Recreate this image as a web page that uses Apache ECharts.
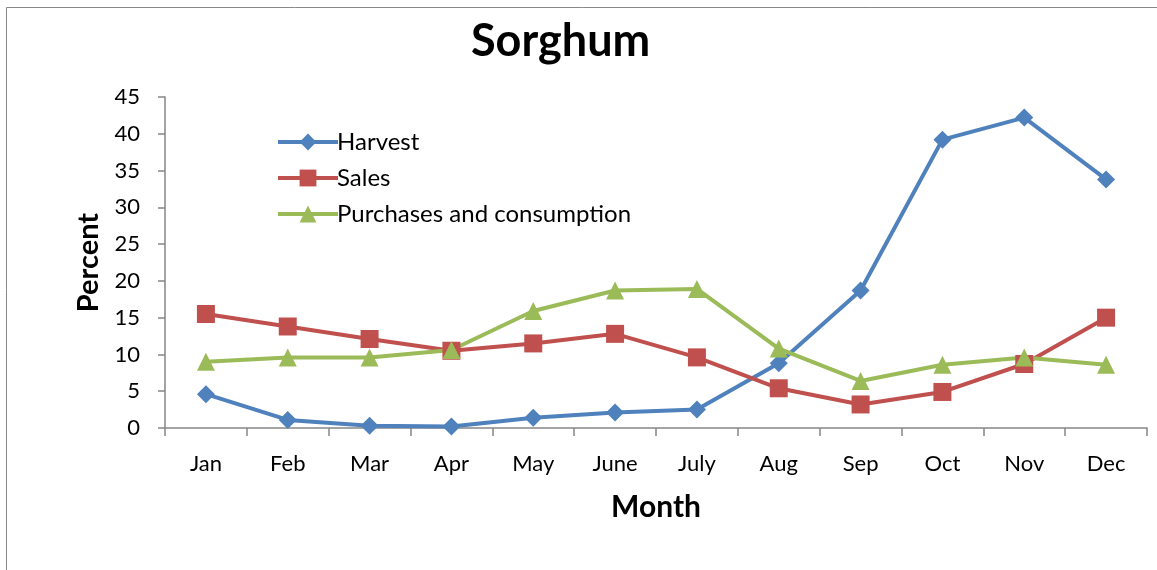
<!DOCTYPE html>
<html>
<head>
<meta charset="utf-8">
<script src="https://cdn.jsdelivr.net/npm/echarts@6/dist/echarts.min.js"></script>
<style>html,body{margin:0;padding:0;background:#fff}#c{width:1157px;height:570px}</style>
</head>
<body>
<div id="c"></div>
<script>
const months = ['Jan','Feb','Mar','Apr','May','June','July','Aug','Sep','Oct','Nov','Dec'];
const harvest = [4.6, 1.1, 0.3, 0.2, 1.4, 2.1, 2.5, 8.8, 18.7, 39.2, 42.2, 33.8];
const sales = [15.5, 13.8, 12.1, 10.5, 11.5, 12.8, 9.6, 5.4, 3.2, 4.9, 8.7, 15.0];
const purchases = [9.0, 9.6, 9.6, 10.6, 15.9, 18.7, 18.9, 10.8, 6.4, 8.6, 9.6, 8.6];
const yTicks = {min: 0, max: 45, interval: 5};

const font = 'Lato, "Open Sans", sans-serif';
const chart = echarts.init(document.getElementById('c'), null, {renderer: 'canvas'});
const mk = (name, data, color, symbol, size) => ({
  name, type: 'line', data, symbol, symbolSize: size,
  lineStyle: {color, width: 4}, itemStyle: {color},
  showAllSymbol: true, animation: false
});
chart.setOption({
  animation: false,
  graphic: [{type: 'rect', shape: {x: 6.5, y: 7.5, width: 1200, height: 600},
    style: {fill: 'none', stroke: '#888', lineWidth: 1}, silent: true}],
  title: {text: 'Sorghum', left: 466, top: 14,
    textStyle: {fontFamily: font, fontSize: 45, fontWeight: 'bold', color: '#000'}},
  legend: {orient: 'vertical', left: 271, top: 125, itemGap: 12, itemWidth: 60, itemHeight: 21,
    lineStyle: {width: 4},
    textStyle: {fontFamily: font, fontSize: 24, color: '#000', padding: [0,0,0,-6]},
    data: ['Harvest','Sales','Purchases and consumption']},
  grid: {left: 165, right: 10, top: 97, bottom: 142, containLabel: false},
  xAxis: {type: 'category', data: months, boundaryGap: true,
    name: 'Month', nameLocation: 'middle', nameGap: 64,
    nameTextStyle: {fontFamily: font, fontSize: 30, fontWeight: 'bold', color: '#000'},
    axisLine: {lineStyle: {color: '#868686', width: 1.5}},
    axisTick: {show: true, alignWithLabel: false, length: 8, lineStyle: {color: '#868686', width: 1.5}},
    axisLabel: {fontFamily: font, fontSize: 22, color: '#000', margin: 25},
    splitLine: {show: false}},
  yAxis: {type: 'value', min: yTicks.min, max: yTicks.max, interval: yTicks.interval,
    name: 'Percent', nameLocation: 'middle', nameGap: 62, nameRotate: 90,
    nameTextStyle: {fontFamily: font, fontSize: 29, fontWeight: 'bold', color: '#000'},
    axisLine: {show: true, lineStyle: {color: '#868686', width: 1.5}},
    axisTick: {show: true, length: 7, lineStyle: {color: '#868686', width: 1.5}},
    axisLabel: {fontFamily: font, fontSize: 22, color: '#000', margin: 25},
    splitLine: {show: false}},
  series: [
    mk('Harvest', harvest, '#4F81BD', 'diamond', 18),
    mk('Sales', sales, '#C0504D', 'rect', 18),
    mk('Purchases and consumption', purchases, '#9BBB59', 'triangle', 18)
  ]
});
</script>
</body>
</html>
